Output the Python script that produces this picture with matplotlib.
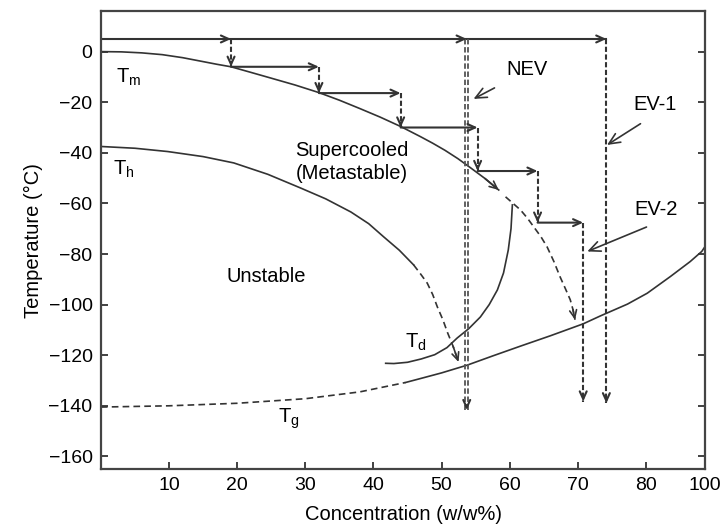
import numpy as np
import matplotlib
matplotlib.use("Agg")
import matplotlib.pyplot as plt

plt.rcParams['font.family'] = ['Liberation Sans', 'DejaVu Sans']
plt.rcParams['mathtext.default'] = 'regular'

c = '#333333'

# curves (x in w/w%, y in deg C)
tm_x = [0, 3, 6, 9, 12, 14.7, 17, 19.1, 22, 25, 28.5, 32, 35, 38, 41, 44,
        46.9, 48.7, 50.5, 52.4, 54.3, 56.4, 58.4]
tm_y = [0, -0.1, -0.5, -1.2, -2.4, -3.8, -5, -6, -8.2, -10.5, -13.2, -16.2,
        -19.2, -22.5, -25.9, -29.6, -33.6, -36.2, -39, -42.3, -46, -50.2, -54.7]
tm_dash_x = [59.4, 60.5, 61.6, 62.6, 63.6, 64.6, 65.5, 66.5, 67.4, 68.2, 68.9,
             69.3, 69.6]
tm_dash_y = [-57.4, -60, -62.6, -65.8, -69.5, -73.2, -77.2, -83, -89, -93.8,
             -98.1, -102, -106]

th_x = [0, 5, 9.8, 15, 19.5, 24.5, 29.3, 33, 36.7, 39.3, 41.5, 43.8, 45.9]
th_y = [-37.5, -38.2, -39.5, -41.5, -44, -48.5, -53.9, -58.2, -63.4, -68,
        -73.2, -78.5, -84.3]
th_dash_x = [45.9, 46.9, 47.9, 48.7, 49.4, 50.2, 50.9, 51.7, 52.5]
th_dash_y = [-84.3, -87.8, -91.5, -96, -101, -106, -111.2, -116.5, -122.7]

td_x = [41.8, 43, 45, 47, 49, 50.8, 52.3, 54, 55.7, 57, 58.2, 59.1, 59.8,
        60.2, 60.4]
td_y = [-123.2, -123.3, -122.8, -121.5, -119.8, -117, -113.2, -109.5, -104.9,
        -100, -94.2, -87.5, -78.4, -70, -60.6]

tg_dash_x = [0, 10, 20, 30, 38, 44.7]
tg_dash_y = [-140.5, -140, -139, -137.2, -134.5, -130.8]
tg_x = [44.7, 47.5, 50, 53.8, 57.5, 61.6, 66, 70.8, 73.3, 77.3, 80.2, 83.6,
        86.5, 88.2, 88.7]
tg_y = [-130.8, -128.8, -127, -123.9, -120.3, -116.4, -112.3, -107.6, -104.5,
        -99.8, -95.5, -88.9, -83, -79, -77]

# staircase of the stepwise freeze-drying
step_x = [19.1, 32.0, 44.0, 55.3, 64.1, 70.8]
step_y = [5, -6, -16.4, -30, -47.2, -67.6, -138.3]

top_y = 5
nev_x, nev_end = 53.7, -141.7
ev1_x, ev1_end = 74.2, -139

fig = plt.figure(figsize=(7.21, 5.30), dpi=100)
ax = fig.add_axes([0.140, 0.115, 0.838, 0.864])
ax.set_xlim(0, 88.7)
ax.set_ylim(-165, 16)


def head(x0, y0, x1, y1, lw=1.2):
    ax.annotate('', xy=(x1, y1), xytext=(x0, y0),
                arrowprops=dict(arrowstyle='->,head_length=0.55,head_width=0.25',
                                color=c, lw=lw, shrinkA=0, shrinkB=0))


dash = (0, (4, 2.5))

# curves
ax.plot(tm_x, tm_y, color=c, lw=1.2)
head(tm_x[-2], tm_y[-2], tm_x[-1], tm_y[-1])
ax.plot(tm_dash_x, tm_dash_y, color=c, lw=1.2, ls=dash)
head(tm_dash_x[-2], tm_dash_y[-2], tm_dash_x[-1], tm_dash_y[-1])

ax.plot(th_x, th_y, color=c, lw=1.2)
ax.plot(th_dash_x, th_dash_y, color=c, lw=1.2, ls=dash)
head(th_dash_x[-2], th_dash_y[-2], th_dash_x[-1], th_dash_y[-1])

ax.plot(td_x, td_y, color=c, lw=1.2)
ax.plot(tg_dash_x, tg_dash_y, color=c, lw=1.2, ls=dash)
ax.plot(tg_x, tg_y, color=c, lw=1.2)

# top horizontal line with arrows
ax.plot([0, ev1_x], [top_y, top_y], color=c, lw=1.5)
for xx in [step_x[0], nev_x, ev1_x]:
    head(xx - 1, top_y, xx, top_y, lw=1.5)

# NEV (double dashed) and EV-1 vertical drops
for off in (-0.2, 0.2):
    ax.plot([nev_x + off, nev_x + off], [top_y, nev_end], color='#555555',
            lw=1.3, ls=(0, (3, 1.5)))
head(nev_x, nev_end + 2, nev_x, nev_end, lw=1.5)
ax.plot([ev1_x, ev1_x], [top_y, ev1_end], color=c, lw=1.5, ls=(0, (2.5, 1.2)))
head(ev1_x, ev1_end + 2, ev1_x, ev1_end, lw=1.5)

# staircase
for i, xx in enumerate(step_x):
    y0, y1 = step_y[i], step_y[i + 1]
    ax.plot([xx, xx], [y0, y1], color=c, lw=1.5, ls=(0, (2.5, 1.2)))
    head(xx, y1 + 2, xx, y1, lw=1.5)
    if i + 1 < len(step_x):
        head(xx, y1, step_x[i + 1], y1, lw=1.5)

# labels
fs = 14.5
ax.text(2.2, -10, '$T_m$', fontsize=fs, va='center', ha='left')
ax.text(1.8, -46.5, '$T_h$', fontsize=fs, va='center', ha='left')
ax.text(44.7, -115, '$T_d$', fontsize=fs, va='center', ha='left')
ax.text(26.0, -145, '$T_g$', fontsize=fs, va='center', ha='left')
ax.text(36.8, -43.5, 'Supercooled\n(Metastable)', fontsize=fs, ha='center',
        va='center', linespacing=1.25)
ax.text(24.3, -88.9, 'Unstable', fontsize=fs, ha='center', va='center')

ax.annotate('NEV', xy=(54.7, -18.7), xytext=(62.6, -7.2), fontsize=fs,
            ha='center', va='center',
            arrowprops=dict(arrowstyle='->,head_length=0.55,head_width=0.25',
                            color=c, lw=1.2, shrinkA=9, shrinkB=0,
                            relpos=(0.1, 0.0)))
ax.annotate('EV-1', xy=(74.3, -36.9), xytext=(81.4, -21), fontsize=fs,
            ha='center', va='center',
            arrowprops=dict(arrowstyle='->,head_length=0.55,head_width=0.25',
                            color=c, lw=1.2, shrinkA=9, shrinkB=0,
                            relpos=(0.5, 0.0)))
ax.annotate('EV-2', xy=(71.4, -79), xytext=(81.5, -62.6), fontsize=fs,
            ha='center', va='center',
            arrowprops=dict(arrowstyle='->,head_length=0.55,head_width=0.25',
                            color=c, lw=1.2, shrinkA=9, shrinkB=0,
                            relpos=(0.7, 0.0)))

# axes styling
xticks = [10, 20, 30, 40, 50, 60, 70, 80, 88.7]
xlabels = ['10', '20', '30', '40', '50', '60', '70', '80', '100']
ax.set_xticks(xticks)
ax.set_xticklabels(xlabels)
ax.set_yticks(np.arange(0, -161, -20))
ax.tick_params(direction='in', length=5, width=1.3, colors=c, labelsize=14,
               labelcolor='black', pad=6, right=True, top=False)
for s in ax.spines.values():
    s.set_linewidth(1.6)
    s.set_color('#444444')

ax.set_xlabel('Concentration (w/w%)', fontsize=14.5, labelpad=8)
ax.set_ylabel('Temperature (°C)', fontsize=14.5, labelpad=4)

fig.savefig('out.png', dpi=100)
